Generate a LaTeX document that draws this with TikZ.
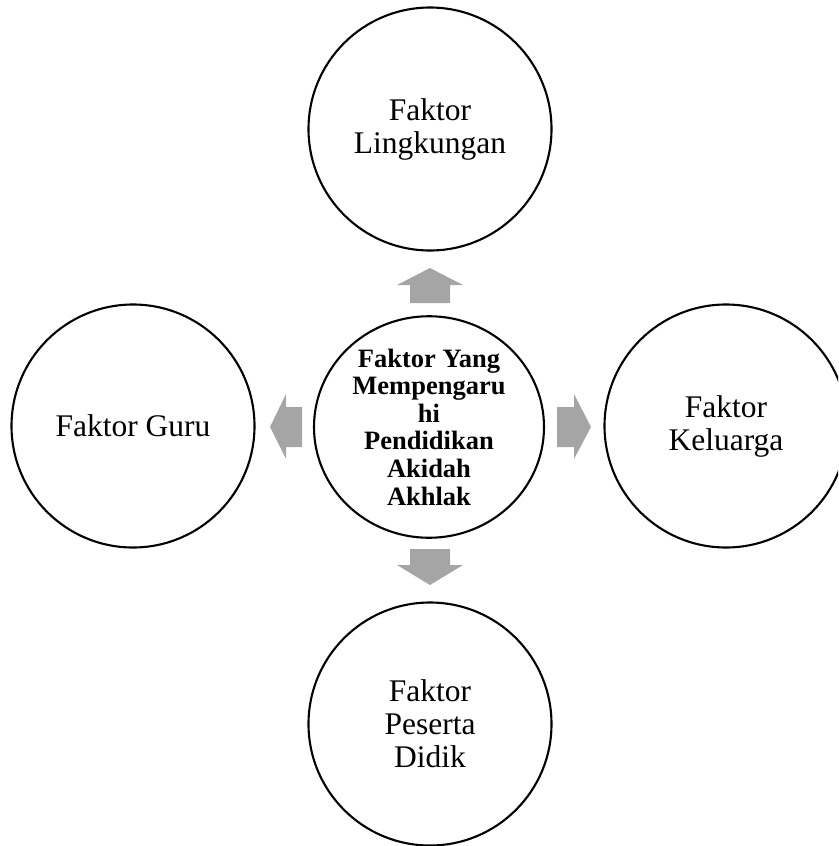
\documentclass[tikz,border=0pt]{standalone}
\usepackage{fontspec}
\setmainfont{Liberation Serif}
\usetikzlibrary{shapes.geometric}
\begin{document}
\begin{tikzpicture}[x=1pt,y=-1pt,
  outer/.style={circle,draw=black,line width=2.1pt,minimum size=243pt,inner sep=0pt,
    align=center,font=\fontsize{31.5}{33}\selectfont},
  hub/.style={ellipse,draw=black,line width=2.1pt,minimum width=230pt,minimum height=217pt,inner sep=0pt,
    align=center,font=\fontsize{26.5}{27.6}\selectfont\bfseries},
  garrow/.style={fill=arrowgray,draw=none}]
\definecolor{arrowgray}{HTML}{A5A5A5}
\useasboundingbox (0,0) rectangle (838,846);
\clip (0,0) rectangle (838,846);
\node[hub] (hub) at (429,427)
  {Faktor Yang\\Mempengaru\\hi\\Pendidikan\\Akidah\\Akhlak};
\node[outer] (top) at (430,129) {Faktor\\Lingkungan};
\node[outer] (left) at (133,426) {Faktor Guru};
\node[outer] (right) at (726,426) {Faktor\\Keluarga};
\node[outer] (bottom) at (430,724) {Faktor\\Peserta\\Didik};
% up arrow
\fill[garrow] (430,268) -- (463,285) -- (450,285) -- (450,303) -- (410,303) -- (410,285) -- (397,285) -- cycle;
% down arrow
\fill[garrow] (430,585) -- (463,565) -- (450,565) -- (450,549) -- (410,549) -- (410,565) -- (397,565) -- cycle;
% left arrow
\fill[garrow] (270,427) -- (286,394) -- (286,407) -- (302,407) -- (302,447) -- (286,447) -- (286,459) -- cycle;
% right arrow
\fill[garrow] (591,427) -- (574,394) -- (574,407) -- (557,407) -- (557,447) -- (574,447) -- (574,459) -- cycle;
\end{tikzpicture}
\end{document}
